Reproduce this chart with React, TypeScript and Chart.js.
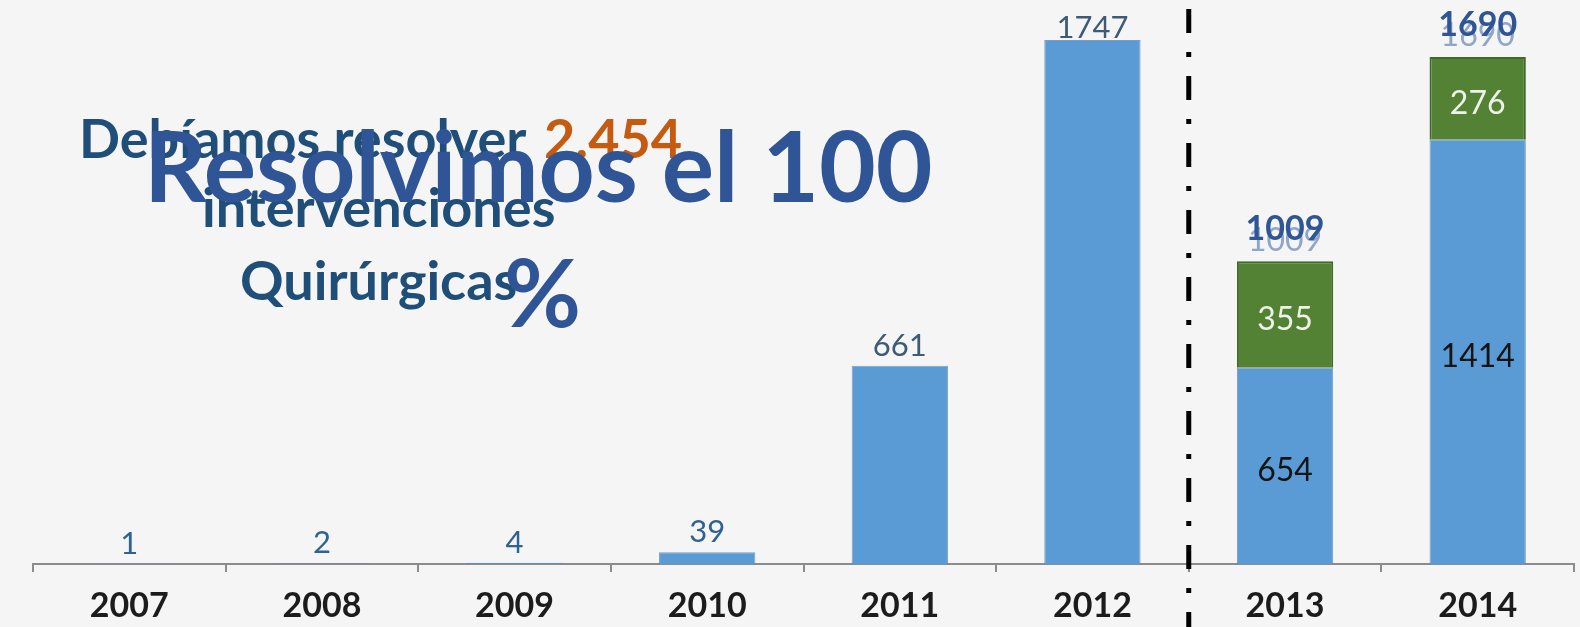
import React, { useEffect, useRef } from "react";
import { Chart, registerables } from "chart.js";

Chart.register(...registerables);

// ---- data ----
const years = ["2007", "2008", "2009", "2010", "2011", "2012", "2013", "2014"];
const blueValues = [1, 2, 4, 39, 661, 1747, 654, 1414];
const greenValues = [0, 0, 0, 0, 0, 0, 355, 276];
const yMax = 1800;
const separatorAfterIndex = 5; // dash-dot line between 2012 and 2013

// ---- overlay texts ----
const textDebiamos = "Debíamos resolver ";
const textAmount = "2.454";
const textInterv = "intervenciones";
const textQuir = "Quirúrgicas";
const textResolvimos = "Resolvimos el 100";
const textPercent = "%";

const BG = "#f5f5f5";
const BLUE = "#5b9bd5";
const GREEN = "#548235";

const bgPlugin = {
  id: "bgFill",
  beforeDraw(chart: any) {
    const { ctx, width, height } = chart;
    ctx.save();
    ctx.fillStyle = BG;
    ctx.fillRect(0, 0, width, height);
    ctx.restore();
  },
};

const labelsPlugin = {
  id: "valueLabels",
  afterDatasetsDraw(chart: any) {
    const ctx = chart.ctx;
    const m0 = chart.getDatasetMeta(0);
    const m1 = chart.getDatasetMeta(1);
    const top = chart.chartArea.top;
    ctx.save();
    ctx.textAlign = "center";
    years.forEach((_, i) => {
      const b: any = m0.data[i];
      const g = greenValues[i];
      if (!g) {
        ctx.font = "31px Lato";
        ctx.fillStyle = i < 4 ? "#2e6194" : "#3d5a77";
        ctx.textBaseline = "alphabetic";
        const y = Math.max(b.y - 10, top + 14);
        ctx.fillText(String(blueValues[i]), b.x, y);
      } else {
        ctx.font = "32px Lato";
        ctx.textBaseline = "middle";
        ctx.fillStyle = "#141414";
        ctx.fillText(String(blueValues[i]), b.x, (b.y + b.base) / 2 + 5);
        const gb: any = m1.data[i];
        ctx.fillStyle = "#eef3ea";
        ctx.fillText(String(g), gb.x, (gb.y + gb.base) / 2 + 5);
        const tot = blueValues[i] + g;
        ctx.font = "32px Lato";
        ctx.fillStyle = "rgba(60,100,160,0.55)";
        ctx.fillText(String(tot), gb.x, gb.y - 21);
        ctx.font = "bold 34px Lato";
        ctx.fillStyle = "#2f5597";
        ctx.fillText(String(tot), gb.x, gb.y - 32);
      }
    });
    ctx.restore();
  },
};

const overlayPlugin = {
  id: "overlay",
  afterDraw(chart: any) {
    const ctx = chart.ctx;
    const xs = chart.scales.x;
    ctx.save();
    // dash-dot separator
    const sx = (xs.getPixelForValue(separatorAfterIndex) + xs.getPixelForValue(separatorAfterIndex + 1)) / 2;
    ctx.strokeStyle = "#000";
    ctx.lineWidth = 5;
    ctx.setLineDash([24, 19, 5, 19]);
    ctx.beginPath();
    ctx.moveTo(sx, 9);
    ctx.lineTo(sx, chart.height);
    ctx.stroke();
    ctx.setLineDash([]);

    ctx.textAlign = "left";
    ctx.textBaseline = "alphabetic";
    ctx.font = "bold 54px Lato";
    ctx.fillStyle = "#1f4e79";
    ctx.fillText(textDebiamos, 79, 158);
    ctx.fillStyle = "#c55a11";
    ctx.fillText(textAmount, 544, 158);
    ctx.fillStyle = "#1f4e79";
    ctx.fillText(textInterv, 202, 227);
    ctx.fillText(textQuir, 240, 300);

    ctx.font = "bold 98px Lato";
    ctx.fillStyle = "#2f5597";
    ctx.fillText(textResolvimos, 144, 202);
    ctx.font = "bold 94px Lato";
    ctx.fillText(textPercent, 504, 327);
    ctx.restore();
  },
};

export default function App() {
  const ref = useRef<HTMLCanvasElement | null>(null);
  useEffect(() => {
    if (!ref.current) return;
    const chart = new Chart(ref.current, {
      type: "bar",
      data: {
        labels: years,
        datasets: [
          {
            data: blueValues,
            backgroundColor: BLUE,
            borderColor: "rgba(70,120,170,0.7)",
            borderWidth: 1,
            barPercentage: 0.5,
            categoryPercentage: 1.0,
          },
          {
            data: greenValues,
            backgroundColor: GREEN,
            borderColor: "#3f6b27",
            borderWidth: 2,
            barPercentage: 0.5,
            categoryPercentage: 1.0,
          },
        ],
      },
      options: {
        animation: false,
        responsive: false,
        maintainAspectRatio: false,
        layout: { padding: { left: 33, right: 6, top: 24, bottom: 0 } },
        plugins: { legend: { display: false }, tooltip: { enabled: false } },
        scales: {
          x: {
            stacked: true,
            offset: true,
            afterFit: (s: any) => {
              s.height = 63;
            },
            grid: { drawOnChartArea: false, drawTicks: true, tickLength: 8, color: "#8c8c8c", lineWidth: 2 },
            border: { display: true, color: "#8c8c8c", width: 2 },
            ticks: {
              color: "#1c1c1c",
              font: { family: "Lato", size: 34, weight: "bold" },
              padding: 14,
              maxRotation: 0,
              autoSkip: false,
            },
          },
          y: { stacked: true, display: false, min: 0, max: yMax },
        },
      },
      plugins: [bgPlugin, labelsPlugin, overlayPlugin],
    });
    return () => chart.destroy();
  }, []);
  return (
    <div style={{ position: "fixed", left: 0, top: 0, width: 1580, height: 627, background: BG }}>
      <canvas ref={ref} width={1580} height={627} />
    </div>
  );
}
